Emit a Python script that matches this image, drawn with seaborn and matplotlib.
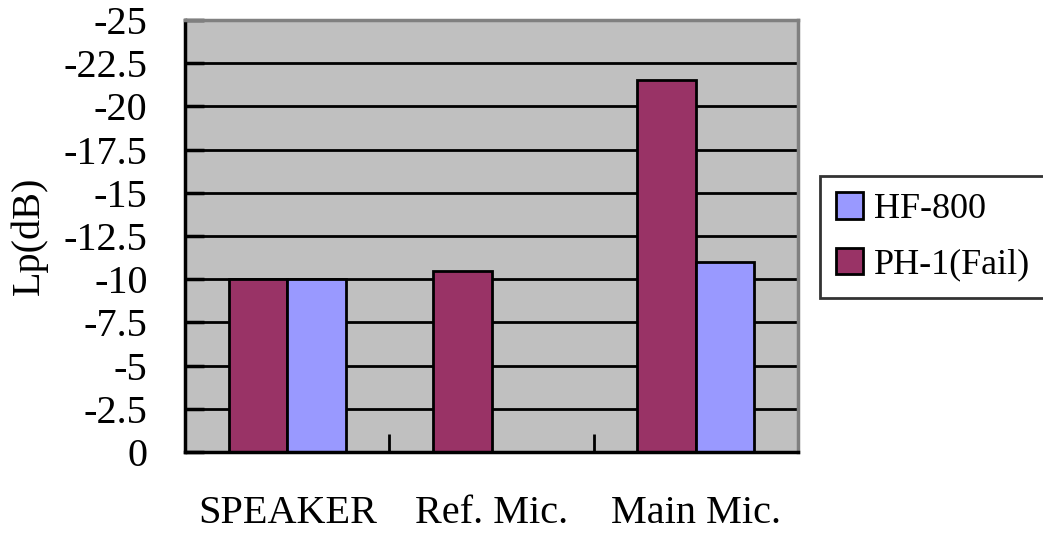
import numpy as np
import pandas as pd
import matplotlib
matplotlib.use("Agg")
import matplotlib.pyplot as plt
import seaborn as sns
from matplotlib.patches import Patch

# Measured sound pressure levels per position
categories = ["SPEAKER", "Ref. Mic.", "Main Mic."]
series_names = ["PH-1(Fail)", "HF-800"]
ph1_values = [-10.0, -10.5, -21.5]
hf800_values = [-10.0, np.nan, -11.0]
y_ticks = [0, -2.5, -5, -7.5, -10, -12.5, -15, -17.5, -20, -22.5, -25]
y_tick_labels = ["0", "-2.5", "-5", "-7.5", "-10", "-12.5", "-15", "-17.5",
                 "-20", "-22.5", "-25"]

colors = {"PH-1(Fail)": "#993366", "HF-800": "#9999FF"}

df = pd.DataFrame({
    "position": categories * 2,
    "series": [series_names[0]] * 3 + [series_names[1]] * 3,
    "Lp": ph1_values + hf800_values,
})

sns.set_theme(style="white")
plt.rcParams["font.family"] = ["Liberation Serif", "DejaVu Serif"]
plt.rcParams["axes.unicode_minus"] = False
for key in ["text.color", "axes.labelcolor", "xtick.color", "ytick.color"]:
    plt.rcParams[key] = "black"
FS = 29

fig = plt.figure(figsize=(10.43, 5.40), dpi=100)
ax = fig.add_axes([0.1774, 0.163, 0.5877, 0.8])
ax.set_facecolor("#C0C0C0")

sns.barplot(data=df, x="position", y="Lp", hue="series", order=categories,
            hue_order=series_names, palette=colors, width=0.572,
            edgecolor="black", linewidth=2, saturation=1, legend=False,
            ax=ax, zorder=3)

ax.set_ylim(0, -25)
ax.set_xlim(-0.5, 2.5)
ax.set_yticks(y_ticks)
ax.set_yticklabels(y_tick_labels, fontsize=FS)
ax.yaxis.grid(True, color="black", linewidth=2)
ax.set_axisbelow(True)

ax.set_xticks(range(len(categories)))
ax.set_xticklabels(categories, fontsize=FS)
ax.tick_params(axis="x", which="major", length=0, pad=31)
ax.set_xticks([-0.5, 0.5, 1.5, 2.5], minor=True)
ax.tick_params(axis="x", which="minor", direction="in", length=13, width=2,
               color="black", bottom=True)
ax.tick_params(axis="y", direction="in", length=14, width=2.5, color="black",
               left=True, pad=27)

ax.set_xlabel("")
ax.set_ylabel("Lp(dB)", fontsize=FS, labelpad=11)

for side in ["left", "bottom"]:
    ax.spines[side].set_color("black")
    ax.spines[side].set_linewidth(2.5)
    ax.spines[side].set_zorder(5)
for side in ["top", "right"]:
    ax.spines[side].set_visible(True)
    ax.spines[side].set_color("#808080")
    ax.spines[side].set_linewidth(2.5)
    ax.spines[side].set_zorder(5)

LFS = 26
handles = [Patch(facecolor=colors["HF-800"], edgecolor="black", linewidth=2),
           Patch(facecolor=colors["PH-1(Fail)"], edgecolor="black", linewidth=2)]
leg = fig.legend(handles, ["HF-800", "PH-1(Fail)"], loc="upper left",
                 bbox_to_anchor=(0.786, 0.674), fontsize=LFS, frameon=True,
                 fancybox=False, handlelength=0.75, handleheight=0.75,
                 handletextpad=0.3, borderpad=0.45, labelspacing=0.6,
                 borderaxespad=0)
leg.get_frame().set_edgecolor("black")
leg.get_frame().set_linewidth(2)

fig.savefig("out.png", dpi=100)
